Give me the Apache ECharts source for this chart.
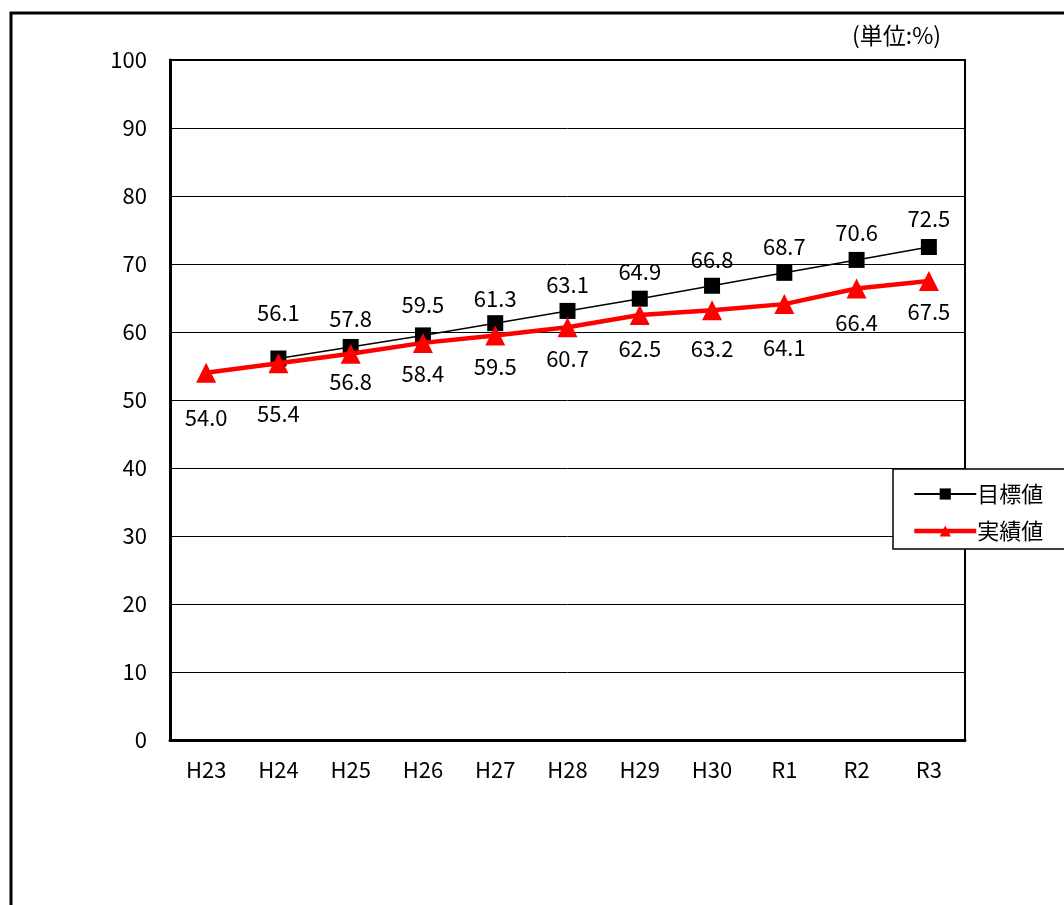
<!DOCTYPE html>
<html>
<head>
<meta charset="utf-8">
<script src="https://cdn.jsdelivr.net/npm/echarts@6/dist/echarts.min.js"></script>
<style>
  html, body { margin: 0; padding: 0; background: #fff; }
  #chart { width: 1064px; height: 905px; }
</style>
</head>
<body>
<div id="chart"></div>
<script>
// Fiscal years
const years = ['H23', 'H24', 'H25', 'H26', 'H27', 'H28', 'H29', 'H30', 'R1', 'R2', 'R3'];
// 目標値 (target, %), no target set for H23
const targetValues = [null, 56.1, 57.8, 59.5, 61.3, 63.1, 64.9, 66.8, 68.7, 70.6, 72.5];
// 実績値 (actual, %)
const actualValues = [54.0, 55.4, 56.8, 58.4, 59.5, 60.7, 62.5, 63.2, 64.1, 66.4, 67.5];
// Y axis ticks
const yTicks = [0, 10, 20, 30, 40, 50, 60, 70, 80, 90, 100];

// label distances from the markers, so labels do not collide
const targetLabelGap = [9, 27, 9, 12, 6, 7, 8, 7, 7, 8, 9];
const actualLabelGap = [24, 29, 7, 10, 10, 10, 13, 17, 23, 13, 10];

const FONT = '"Noto Sans CJK JP", "DejaVu Sans", sans-serif';
const NUM_SIZE = 22;

const chart = echarts.init(document.getElementById('chart'), null, { renderer: 'canvas' });

const targetData = targetValues.map((v, i) => v === null ? null : ({
  value: v,
  label: { distance: targetLabelGap[i] }
}));
const actualData = actualValues.map((v, i) => ({
  value: v,
  label: { distance: actualLabelGap[i] }
}));

chart.setOption({
  backgroundColor: '#fff',
  animation: false,
  textStyle: { fontFamily: FONT },
  grid: {
    left: 170, top: 60, width: 795, height: 680,
    show: true, borderColor: '#000', borderWidth: 2, backgroundColor: 'transparent'
  },
  graphic: [
    { type: 'rect', shape: { x: 11, y: 13, width: 1200, height: 1000 },
      style: { fill: 'none', stroke: '#000', lineWidth: 3 }, z: 0 },
    { type: 'rect', shape: { x: 893, y: 469, width: 300, height: 80 },
      style: { fill: '#fff', stroke: '#000', lineWidth: 1.5 }, z: 10 },
    { type: 'text', left: 852, top: 24,
      style: { text: '(単位:%)', font: '23px ' + FONT, fill: '#000' }, z: 10 }
  ],
  legend: {
    orient: 'vertical',
    left: 907, top: 478,
    itemWidth: 62, itemHeight: 14,
    itemGap: 15,
    z: 20,
    textStyle: { fontSize: 22, color: '#000', fontFamily: FONT, padding: [0, 0, 0, -4] },
    data: [
      { name: '目標値', lineStyle: { width: 2 } },
      { name: '実績値', lineStyle: { width: 4.5 } }
    ]
  },
  xAxis: {
    type: 'category',
    data: years,
    boundaryGap: true,
    axisLine: { lineStyle: { color: '#000', width: 3 } },
    axisTick: { inside: true, length: 7, lineStyle: { color: '#000', width: 1 } },
    axisLabel: { color: '#000', fontSize: NUM_SIZE, margin: 19, fontFamily: FONT }
  },
  yAxis: {
    type: 'value',
    min: yTicks[0], max: yTicks[yTicks.length - 1], interval: 10,
    axisLine: { show: true, lineStyle: { color: '#000', width: 3 } },
    axisTick: { show: false },
    splitLine: { lineStyle: { color: '#000', width: 1 } },
    axisLabel: { color: '#000', fontSize: NUM_SIZE, margin: 23, fontFamily: FONT }
  },
  series: [
    {
      name: '目標値',
      type: 'line',
      data: targetData,
      symbol: 'rect',
      symbolSize: 16,
      lineStyle: { color: '#000', width: 1.5 },
      itemStyle: { color: '#000' },
      z: 3,
      label: {
        show: true, position: 'top', color: '#000', fontSize: NUM_SIZE, fontFamily: FONT,
        formatter: p => p.value.toFixed(1)
      }
    },
    {
      name: '実績値',
      type: 'line',
      data: actualData,
      symbol: 'triangle',
      symbolSize: 20,
      lineStyle: { color: '#ff0000', width: 4.5 },
      itemStyle: { color: '#ff0000' },
      z: 4,
      label: {
        show: true, position: 'bottom', color: '#000', fontSize: NUM_SIZE, fontFamily: FONT,
        formatter: p => p.value.toFixed(1)
      }
    }
  ]
});
</script>
</body>
</html>
